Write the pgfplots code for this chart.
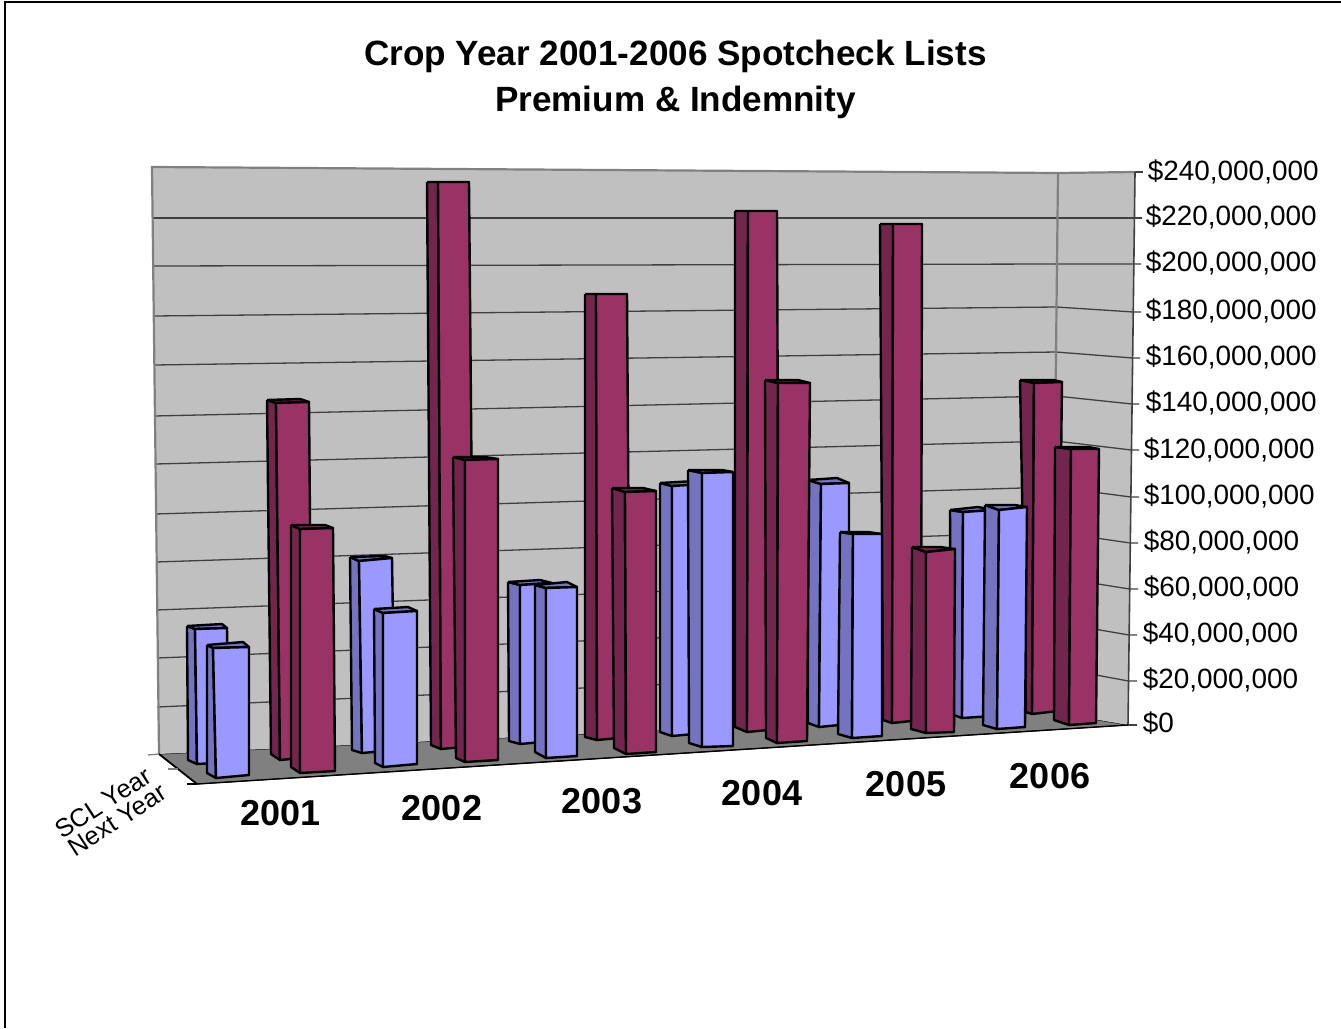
\documentclass[border=0pt]{standalone}
\usepackage{pgfplots}
\pgfplotsset{compat=1.18}
\usepackage{fontspec}
\setmainfont{Liberation Sans}

\definecolor{wall}{HTML}{C0C0C0}
\definecolor{floorc}{HTML}{808080}
\definecolor{gridc}{HTML}{404040}
\definecolor{bluef}{HTML}{9999FF}
\definecolor{blues}{HTML}{7373BF}
\definecolor{redf}{HTML}{993366}
\definecolor{reds}{HTML}{73264D}

\pgfplotsset{
  bar edge/.style={draw=black,line width=2.4bp,line join=round},
  blue front/.style={bar edge,fill=bluef},
  blue side/.style={bar edge,fill=blues},
  blue top/.style={bar edge,fill=blues},
  red front/.style={bar edge,fill=redf},
  red side/.style={bar edge,fill=reds},
  red top/.style={bar edge,fill=reds},
  gridl/.style={draw=gridc,line width=1.3bp},
  wallline/.style={draw=floorc,line width=2.2bp},
}

% one 3D column: family, then corners
% top back-left, top front-left, top front-right, top back-right,
% bottom front-right, bottom front-left, bottom back-left
\newcommand{\column}[8]{
  \addplot[#1 side] coordinates {#2#3#7#8#2};
  \addplot[#1 top] coordinates {#2#5#4#3#2};
  \addplot[#1 front] coordinates {#3#4#6#7#3};
}

\begin{document}
\begin{tikzpicture}
\begin{axis}[
  scale only axis,
  width=1341bp,height=1028bp,
  xmin=0,xmax=1341,ymin=0,ymax=1028,
  y dir=reverse,
  axis line style={draw=none},
  no marks,
  xtick=\empty,
  yticklabel pos=right,
  ytick={722,679,633,587,541,495,449,402,356,310,262,216,171},
  yticklabels={{\$0},{\$20,000,000},{\$40,000,000},{\hspace*{1bp}\$60,000,000},{\hspace*{1bp}\$80,000,000},{\hspace*{1bp}\$100,000,000},{\hspace*{1bp}\$120,000,000},{\hspace*{3bp}\$140,000,000},{\hspace*{3bp}\$160,000,000},{\hspace*{3bp}\$180,000,000},{\hspace*{3bp}\$200,000,000},{\hspace*{3bp}\$220,000,000},{\hspace*{5bp}\$240,000,000}},
  ytick style={draw=none},
  major tick length=0pt,
  yticklabel style={anchor=west,inner sep=0pt,xshift=-198.3bp,yshift=-1.2bp,font=\fontsize{27.9bp}{30bp}\selectfont},
]
% chart border
\addplot[draw=black,line width=1.6bp] coordinates {(5,1028)(5,2)(1341,2)};

% floor and walls
\addplot[fill=floorc,draw=black,line width=1bp] coordinates {(159,754)(1052,712)(1128,725)(197,784)(159,754)};
\addplot[fill=wall,draw=none] coordinates {(152,167)(1058,173)(1052,712)(159,754)(152,167)};
\addplot[fill=wall,draw=none] coordinates {(1058,173)(1135,172)(1128,725)(1052,712)(1058,173)};

% gridlines on back wall and side wall, going out to the tick
\addplot[gridl] coordinates {(153,218)(1057,218)(1134.4,218)(1142,218)};
\addplot[gridl] coordinates {(153,266)(1057,264)(1133.8,264)(1141,264)};
\addplot[gridl] coordinates {(153,316)(1056.5,307)(1133.2,312)(1141,312)};
\addplot[gridl] coordinates {(154,365)(1056,352)(1132.6,358)(1140,358)};
\addplot[gridl] coordinates {(154,416)(1056,396)(1132,404)(1139,404)};
\addplot[gridl] coordinates {(155,464)(1055.5,441)(1131.4,450)(1139,450)};
\addplot[gridl] coordinates {(155,514)(1055,487)(1130.8,497)(1139,497)};
\addplot[gridl] coordinates {(156,562)(1054.5,532)(1130.2,543)(1138,543)};
\addplot[gridl] coordinates {(156,610)(1054,577)(1129.6,589)(1138,589)};
\addplot[gridl] coordinates {(157,658)(1053.5,622)(1129,635)(1137,635)};
\addplot[gridl] coordinates {(157,707)(1053,667)(1128.4,681)(1137,681)};
\addplot[gridl] coordinates {(1128,725)(1137,725)};
\addplot[gridl] coordinates {(1135,172)(1143,172)};

% wall outlines
\addplot[wallline] coordinates {(159,754)(152,167)(1058,173)(1135,172)};
\addplot[wallline] coordinates {(1058,173)(1052,712)};
\addplot[draw=gridc,line width=1.6bp] coordinates {(1135,172)(1128,725)};

% floor edge and depth ticks
\addplot[draw=black,line width=1.3bp] coordinates {(197,784)(1128,725)};
\addplot[draw=black,line width=1.8bp] coordinates {(159,754)(197,784)};
\addplot[draw=floorc,line width=1.3bp] coordinates {(148,755)(159,754)};
\addplot[draw=floorc,line width=1.3bp] coordinates {(168,769)(178,769)};
\addplot[draw=black,line width=1.3bp] coordinates {(187,784)(197,784)};

% back row, left to right
\column{blue}{(187,626)}{(195,629)}{(227,628)}{(222,624)}{(229,762)}{(197,764)}{(188,760)} % 2001, about 41M
\column{red}{(267,400)}{(276,403)}{(309,402)}{(300,399)}{(312,757)}{(280,760)}{(271,754)} % 2001, about 147M
\column{blue}{(350,557)}{(359,561)}{(392,558)}{(385,556)}{(395,750)}{(362,753)}{(352,750)} % 2002, about 76M
\column{red}{(427,182)}{(438,182)}{(469,182)}{(469,182)}{(474,746)}{(441,749)}{(431,745)} % 2002, about 236M
\column{blue}{(508,582)}{(520,585)}{(552,583)}{(540,580)}{(553,741)}{(520,744)}{(509,741)} % 2003, about 65M
\column{red}{(585,294)}{(596,294)}{(627,294)}{(627,294)}{(630,737)}{(597,740)}{(585,737)} % 2003, about 188M
\column{blue}{(660,483)}{(672,486)}{(705,484)}{(695,481)}{(705,733)}{(672,736)}{(660,732)} % 2004, about 106M
\column{red}{(735,211)}{(748,211)}{(777,211)}{(777,211)}{(779,729)}{(747,732)}{(735,727)} % 2004, about 222M
\column{blue}{(808,480)}{(821,484)}{(849,483)}{(837,478)}{(849,724)}{(819,727)}{(808,723)} % 2005, about 104M
\column{red}{(880,224)}{(893,224)}{(922,224)}{(922,224)}{(921,720)}{(892,723)}{(883,720)} % 2005, about 217M
\column{blue}{(950,510)}{(963,512)}{(994,510)}{(978,507)}{(992,716)}{(962,718)}{(951,714)} % 2006, about 88M
\column{red}{(1020,380)}{(1034,383)}{(1062,382)}{(1053,380)}{(1058,711)}{(1032,714)}{(1026,712)} % 2006, about 140M

% front row, left to right
\column{blue}{(207,645)}{(213,648)}{(249,647)}{(243,642)}{(249,775)}{(216,778)}{(207,773)} % 2001, about 35M
\column{red}{(291,525)}{(300,529)}{(333,528)}{(325,525)}{(335,771)}{(300,773)}{(291,767)} % 2001, about 90M
\column{blue}{(374,609)}{(383,613)}{(417,611)}{(408,607)}{(417,764)}{(383,767)}{(375,763)} % 2002, about 50M
\column{red}{(453,457)}{(465,460)}{(498,459)}{(485,457)}{(498,760)}{(465,762)}{(456,758)} % 2002, about 118M
\column{blue}{(535,585)}{(546,588)}{(577,587)}{(567,582)}{(577,756)}{(546,758)}{(535,752)} % 2003, about 63M
\column{red}{(612,488)}{(625,492)}{(656,491)}{(643,488)}{(656,752)}{(626,754)}{(614,748)} % 2003, about 105M
\column{blue}{(688,470)}{(702,473)}{(733,472)}{(722,470)}{(733,746)}{(702,747)}{(689,743)} % 2004, about 113M
\column{red}{(765,380)}{(778,383)}{(810,383)}{(798,380)}{(807,741)}{(777,743)}{(766,738)} % 2004, about 150M
\column{blue}{(840,532)}{(853,534)}{(882,534)}{(868,532)}{(882,736)}{(852,738)}{(838,734)} % 2005, about 85M
\column{red}{(912,547)}{(926,552)}{(955,549)}{(940,547)}{(954,732)}{(926,733)}{(911,729)} % 2005, about 76M
\column{blue}{(985,505)}{(999,510)}{(1027,507)}{(1015,505)}{(1025,727)}{(997,729)}{(983,725)} % 2006, about 92M
\column{red}{(1055,447)}{(1071,449)}{(1099,449)}{(1088,447)}{(1096,723)}{(1069,725)}{(1054,720)} % 2006, about 115M

% title
\node[align=center,font=\fontsize{35.1bp}{46bp}\selectfont\bfseries] at (axis cs:675.5,79.5)
  {Crop Year 2001-2006 Spotcheck Lists\\Premium \& Indemnity};

% category labels
\node[font=\fontsize{36bp}{38bp}\selectfont\bfseries] at (axis cs:280.5,813.5) {2001};
\node[font=\fontsize{36bp}{38bp}\selectfont\bfseries] at (axis cs:442,808.5) {2002};
\node[font=\fontsize{36bp}{38bp}\selectfont\bfseries] at (axis cs:602,801.5) {2003};
\node[font=\fontsize{36bp}{38bp}\selectfont\bfseries] at (axis cs:762,793) {2004};
\node[font=\fontsize{36bp}{38bp}\selectfont\bfseries] at (axis cs:906,784) {2005};
\node[font=\fontsize{36bp}{38bp}\selectfont\bfseries] at (axis cs:1050,776.5) {2006};

% series labels
\node[rotate=33,font=\fontsize{25.5bp}{28bp}\selectfont] at (axis cs:103,803) {SCL Year};
\node[rotate=33,font=\fontsize{25.5bp}{28bp}\selectfont] at (axis cs:117,820) {Next Year};
\end{axis}
\end{tikzpicture}
\end{document}
